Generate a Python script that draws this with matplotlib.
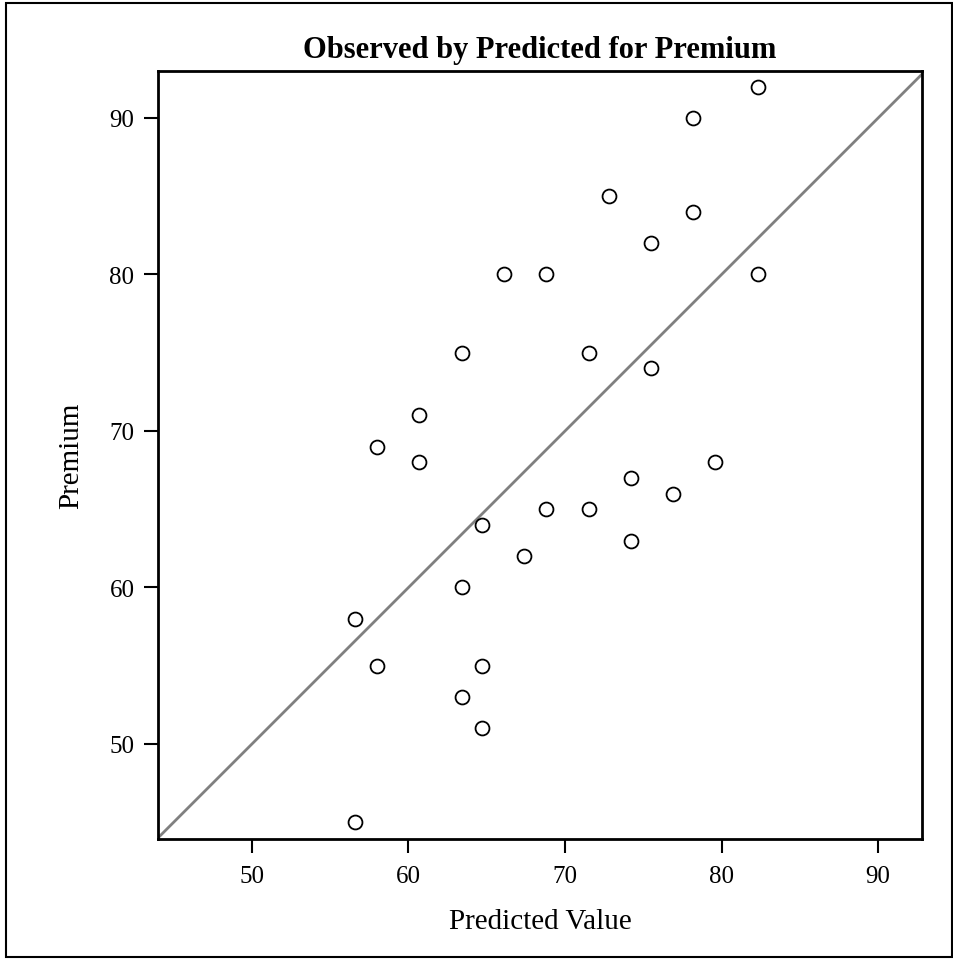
import matplotlib.pyplot as plt
from matplotlib.patches import Rectangle

# 观测值 vs 预测值
predicted = [82.3, 78.2, 72.8, 78.2, 75.5, 82.3, 66.1, 68.8, 63.4, 71.5,
             75.5, 60.7, 58.0, 60.7, 79.6, 74.2, 76.9, 64.7, 68.8, 71.5,
             67.4, 74.2, 63.4, 56.6, 58.0, 64.7, 63.4, 64.7, 56.6]
premium = [92, 90, 85, 84, 82, 80, 80, 80, 75, 75,
           74, 71, 69, 68, 68, 67, 66, 64, 65, 65,
           62, 63, 60, 58, 55, 55, 53, 51, 45]
ticks = [50, 60, 70, 80, 90]
lo, hi = 44.0, 93.0

plt.rcParams['font.family'] = ['Liberation Serif', 'DejaVu Serif']

fig = plt.figure(figsize=(9.54, 9.62), dpi=100)
ax = fig.add_axes([158/954, 1-840/962, (922-158)/954, (840-72)/962])

# 外框
fig.patches.append(Rectangle((6/954, 4/962), 946/954, 954/962, transform=fig.transFigure,
                             fill=False, edgecolor="black", linewidth=1.5))

ax.plot([lo, hi], [lo, hi], color="#808080", linewidth=2, zorder=1)
ax.scatter(predicted, premium, s=100, facecolors="white", edgecolors="black",
           linewidths=1.3, zorder=2)

ax.set_xlim(lo, 92.8)
ax.set_ylim(43.93, 93.0)
ax.set_xticks(ticks)
ax.set_yticks(ticks)
ax.tick_params(direction="out", length=10, width=1.5, labelsize=18)
ax.tick_params(axis="x", pad=9)
ax.tick_params(axis="y", pad=7)
for s in ax.spines.values():
    s.set_linewidth(2)

ax.set_title("Observed by Predicted for Premium", fontsize=22, fontweight="bold", pad=10)
ax.set_xlabel("Predicted Value", fontsize=21, labelpad=15)
ax.set_ylabel("Premium", fontsize=21, labelpad=18)

fig.savefig("out.png", dpi=100)
